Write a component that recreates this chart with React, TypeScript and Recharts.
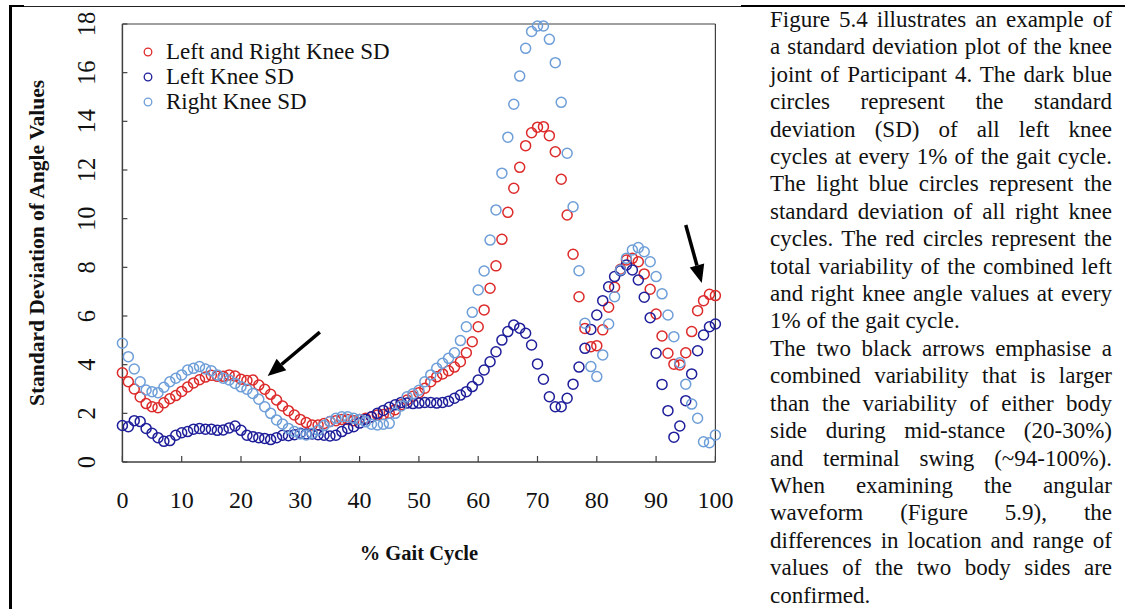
import { ScatterChart, Scatter, XAxis, YAxis, ReferenceLine, Legend, Label } from 'recharts';

const FONT = '"Liberation Serif", "Times New Roman", serif';
const RED = '#DD2A2A';
const NAVY = '#1E1E9A';
const SKY = '#6E9ED8';
const AXIS = '#404040';

// % of gait cycle, 0..100 in 1% steps
const GAIT = Array.from({ length: 101 }, (_, i) => i);
const X_TICKS = [0, 10, 20, 30, 40, 50, 60, 70, 80, 90, 100];
const Y_TICKS = [0, 2, 4, 6, 8, 10, 12, 14, 16, 18];

// combined left + right SD
const LR_SD = [
  3.67, 3.30, 3.00, 2.67, 2.40, 2.27, 2.23, 2.43, 2.60, 2.73,
  2.90, 3.08, 3.25, 3.38, 3.49, 3.56, 3.52, 3.52, 3.58, 3.53,
  3.40, 3.35, 3.37, 3.16, 2.99, 2.78, 2.55, 2.30, 2.11, 1.93,
  1.75, 1.62, 1.52, 1.52, 1.58, 1.66, 1.70, 1.75, 1.75, 1.70,
  1.75, 1.80, 1.85, 1.93, 1.95, 2.00, 2.15, 2.35, 2.55, 2.70,
  2.85, 3.03, 3.30, 3.50, 3.62, 3.75, 3.90, 4.12, 4.49, 4.94,
  5.56, 6.25, 7.14, 8.06, 9.15, 10.26, 11.25, 12.11, 13.00, 13.53,
  13.76, 13.78, 13.41, 12.75, 11.62, 10.15, 8.54, 6.79, 5.49, 4.74,
  4.78, 5.43, 6.36, 7.18, 7.92, 8.30, 8.37, 8.23, 7.73, 7.10,
  6.08, 5.18, 4.47, 4.02, 3.99, 4.49, 5.36, 6.22, 6.63, 6.89,
  6.84,
];

// left knee SD
const L_SD = [
  1.50, 1.45, 1.70, 1.66, 1.38, 1.18, 1.00, 0.85, 0.88, 1.10,
  1.20, 1.25, 1.35, 1.38, 1.35, 1.35, 1.30, 1.32, 1.40, 1.48,
  1.30, 1.10, 1.04, 1.00, 0.97, 0.92, 1.00, 1.10, 1.08, 1.12,
  1.18, 1.15, 1.15, 1.12, 1.10, 1.07, 1.10, 1.25, 1.38, 1.45,
  1.60, 1.75, 1.86, 2.00, 2.12, 2.25, 2.35, 2.45, 2.42, 2.40,
  2.42, 2.45, 2.45, 2.42, 2.45, 2.50, 2.62, 2.75, 2.89, 3.10,
  3.37, 3.78, 4.12, 4.53, 5.01, 5.36, 5.63, 5.50, 5.29, 4.81,
  4.03, 3.40, 2.68, 2.27, 2.27, 2.62, 3.20, 3.90, 4.67, 5.45,
  6.04, 6.63, 7.20, 7.62, 7.86, 8.10, 7.89, 7.48, 6.77, 5.93,
  4.47, 3.19, 2.11, 1.02, 1.48, 2.52, 3.62, 4.57, 5.22, 5.56,
  5.67,
];

// right knee SD
const R_SD = [
  4.88, 4.33, 3.82, 3.30, 2.96, 2.89, 2.85, 3.07, 3.30, 3.44,
  3.58, 3.78, 3.85, 3.92, 3.82, 3.75, 3.58, 3.44, 3.37, 3.23,
  3.09, 2.99, 2.82, 2.58, 2.27, 2.00, 1.73, 1.56, 1.38, 1.25,
  1.15, 1.11, 1.18, 1.30, 1.50, 1.66, 1.80, 1.86, 1.86, 1.80,
  1.75, 1.65, 1.55, 1.52, 1.55, 1.59, 2.00, 2.30, 2.68, 2.80,
  2.95, 3.30, 3.58, 3.85, 4.06, 4.26, 4.49, 4.99, 5.56, 6.15,
  7.07, 7.85, 9.12, 10.36, 11.87, 13.35, 14.70, 15.86, 17.00, 17.69,
  17.92, 17.92, 17.37, 16.41, 14.78, 12.69, 10.49, 7.86, 5.70, 3.92,
  3.51, 4.40, 5.67, 6.79, 7.89, 8.37, 8.71, 8.81, 8.64, 8.23,
  7.62, 6.91, 6.04, 5.15, 4.08, 3.20, 2.38, 1.80, 0.83, 0.79,
  1.11,
];

const SERIES = [
  { name: 'Left and Right Knee SD', values: LR_SD, color: RED },
  { name: 'Left Knee SD', values: L_SD, color: NAVY },
  { name: 'Right Knee SD', values: R_SD, color: SKY },
];

// arrows: [tailX, tailY, headX, headY] in data units
const ARROWS = [
  [33.3, 5.34, 24.5, 3.53],
  [95.0, 9.74, 97.7, 7.36],
];

const TEXT_LINES = [
  'Figure 5.4 illustrates an example of',
  'a standard deviation plot of the knee',
  'joint of Participant 4. The dark blue',
  'circles represent the standard',
  'deviation (SD) of all left knee',
  'cycles at every 1% of the gait cycle.',
  'The light blue circles represent the',
  'standard deviation of all right knee',
  'cycles. The red circles represent the',
  'total variability of the combined left',
  'and right knee angle values at every',
  '1% of the gait cycle.',
  'The two black arrows emphasise a',
  'combined variability that is larger',
  'than the variability of either body',
  'side during mid-stance (20-30%)',
  'and terminal swing (~94-100%).',
  'When examining the angular',
  'waveform (Figure 5.9), the',
  'differences in location and range of',
  'values of the two body sides are',
  'confirmed.',
];
const PARA_ENDS = [11, 21];

function XTick({ x, y, payload }: any) {
  return (
    <text x={x} y={y + 46} textAnchor="middle" fontSize={24} fontFamily={FONT} fill="#111">
      {payload.value}
    </text>
  );
}

function YTick({ x, y, payload }: any) {
  const tx = x - 32;
  return (
    <text x={tx} y={y} transform={`rotate(-90 ${tx} ${y})`} textAnchor="middle" fontSize={24.5} fontFamily={FONT} fill="#111">
      {payload.value}
    </text>
  );
}

function Circle({ cx, cy, color }: any) {
  return <circle cx={cx} cy={cy} r={5} fill="none" stroke={color} strokeWidth={1.5} />;
}

function Arrow({ x1, y1, x2, y2 }: any) {
  const ang = Math.atan2(y2 - y1, x2 - x1);
  const len = 18, half = 7.5;
  const bx = x2 - len * Math.cos(ang), by = y2 - len * Math.sin(ang);
  const px = -Math.sin(ang) * half, py = Math.cos(ang) * half;
  return (
    <g>
      <line x1={x1} y1={y1} x2={bx} y2={by} stroke="#000" strokeWidth={3.5} />
      <polygon points={`${x2},${y2} ${bx + px},${by + py} ${bx - px},${by - py}`} fill="#000" />
    </g>
  );
}

function LegendBox() {
  return (
    <div style={{ fontFamily: FONT, fontSize: 23, color: '#111' }}>
      {SERIES.map(s => (
        <div key={s.name} style={{ display: 'flex', alignItems: 'center', height: 25, whiteSpace: 'nowrap' }}>
          <svg width={18} height={12}>
            <circle cx={10} cy={6} r={3.8} fill="none" stroke={s.color} strokeWidth={1.3} />
          </svg>
          <span style={{ marginLeft: 10 }}>{s.name}</span>
        </div>
      ))}
    </div>
  );
}

export default function App() {
  return (
    <div style={{ position: 'absolute', left: 0, top: 0, width: 1125, height: 609, background: '#fff', overflow: 'hidden' }}>
      {/* table frame */}
      <div style={{ position: 'absolute', left: 9, top: 5, width: 3, height: 604, background: '#000' }} />
      <div style={{ position: 'absolute', left: 9, top: 5, width: 15, height: 2, background: '#000' }} />
      <div style={{ position: 'absolute', left: 24, top: 6, width: 717, height: 1, background: '#222' }} />
      <div style={{ position: 'absolute', left: 741, top: 5, width: 384, height: 2.3, background: '#000' }} />

      <div style={{ position: 'absolute', left: 0, top: 0 }}>
        <ScatterChart width={740} height={609} margin={{ top: 24, right: 24.6, bottom: 107, left: 62.4 }}>
          <XAxis
            type="number" dataKey="x" domain={[0, 100]} ticks={X_TICKS} interval={0}
            height={40} tickSize={-6} tickMargin={6} tick={<XTick />}
            axisLine={{ stroke: AXIS, strokeWidth: 1.5 }} tickLine={{ stroke: AXIS, strokeWidth: 1.2 }}
          >
            <Label
              content={({ viewBox }: any) => (
                <text x={viewBox.x + viewBox.width / 2} y={viewBox.y + 98} textAnchor="middle"
                  fontSize={20.5} fontWeight="bold" fontFamily={FONT} fill="#111">% Gait Cycle</text>
              )}
            />
          </XAxis>
          <YAxis
            type="number" dataKey="y" domain={[0, 18]} ticks={Y_TICKS} interval={0}
            width={60} tickSize={-5} tickMargin={0} tick={<YTick />}
            axisLine={{ stroke: AXIS, strokeWidth: 1.5 }} tickLine={{ stroke: AXIS, strokeWidth: 1.2 }}
          >
            <Label
              content={({ viewBox }: any) => {
                const lx = viewBox.x - 18, ly = viewBox.y + viewBox.height / 2;
                return (
                  <text x={lx} y={ly} transform={`rotate(-90 ${lx} ${ly})`} textAnchor="middle"
                    fontSize={21.5} fontWeight="bold" fontFamily={FONT} fill="#111">Standard Deviation of Angle Values</text>
                );
              }}
            />
          </YAxis>
          <ReferenceLine y={18} stroke={AXIS} strokeWidth={1.2} ifOverflow="visible" />
          <ReferenceLine x={100} stroke={AXIS} strokeWidth={1.2} ifOverflow="visible" />
          {SERIES.map(s => (
            <Scatter
              key={s.name}
              name={s.name}
              data={GAIT.map((g, i) => ({ x: g, y: s.values[i] }))}
              isAnimationActive={false}
              shape={(p: any) => <Circle cx={p.cx} cy={p.cy} color={s.color} />}
            />
          ))}
          {ARROWS.map((a, i) => (
            <ReferenceLine
              key={i}
              segment={[{ x: a[0], y: a[1] }, { x: a[2], y: a[3] }]}
              ifOverflow="visible"
              shape={(p: any) => <Arrow x1={p.x1} y1={p.y1} x2={p.x2} y2={p.y2} />}
            />
          ))}
          <Legend
            layout="vertical" align="center" verticalAlign="middle"
            wrapperStyle={{ left: 138, top: 39, width: 'auto', height: 'auto' }}
            content={() => <LegendBox />}
          />
        </ScatterChart>
      </div>

      {/* accompanying paragraph */}
      <div style={{ position: 'absolute', left: 770, top: 6, width: 342, fontFamily: FONT, fontSize: 23, lineHeight: '27.4px', color: '#111' }}>
        {TEXT_LINES.map((line, i) => (
          <div
            key={i}
            style={{
              whiteSpace: 'nowrap',
              textAlign: PARA_ENDS.includes(i) ? 'left' : 'justify',
              textAlignLast: PARA_ENDS.includes(i) ? 'left' : 'justify',
            }}
          >
            {line}
          </div>
        ))}
      </div>
    </div>
  );
}
